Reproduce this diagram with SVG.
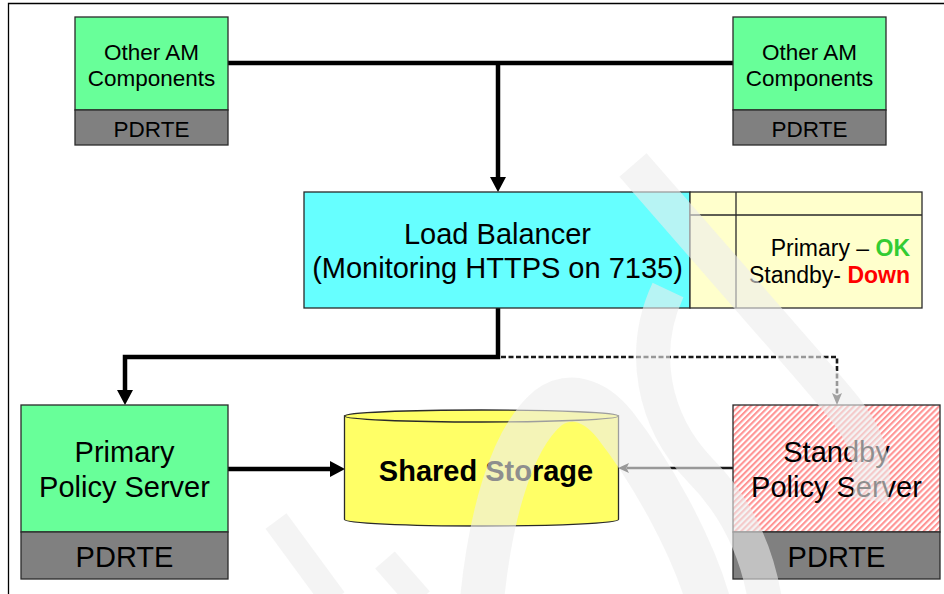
<svg xmlns="http://www.w3.org/2000/svg" width="944" height="594" viewBox="0 0 944 594">
  <style>
    .box { stroke: #2a2a2a; stroke-width: 1.3; }
    .green { fill: #68ff99; }
    .grey { fill: #808080; }
    .cyan { fill: #66ffff; }
    .pale { fill: #ffffcc; }
    .yellow { fill: #ffff66; }
    .t { font-family: "Liberation Sans", Arial, sans-serif; fill: #000; }
    .mid { text-anchor: middle; }
    .end { text-anchor: end; }
    .s22 { font-size: 22.5px; }
    .s23 { font-size: 23px; }
    .s28 { font-size: 29px; }
    .s29 { font-size: 29px; }
    .bold { font-weight: bold; }
    .thick { fill: none; stroke: #000; stroke-width: 4.5; }
    .thin { fill: none; stroke: #1a1a1a; stroke-width: 2.5; }
    .dash { fill: none; stroke: #1a1a1a; stroke-width: 2.6; stroke-dasharray: 5 2.5; }
    .wm { fill: none; stroke: #ececec; stroke-opacity: 0.6; }
  </style>
  <defs>
    <marker id="arrowBig" markerUnits="userSpaceOnUse" markerWidth="15" markerHeight="16" refX="0" refY="8" orient="auto">
      <path d="M0,0 L15,8 L0,16 z" fill="#000"/>
    </marker>
    <marker id="arrowSmall" markerUnits="userSpaceOnUse" markerWidth="11" markerHeight="10" refX="2" refY="5" orient="auto">
      <path d="M0,0 L11,5 L0,10 L2.5,5 z" fill="#1a1a1a"/>
    </marker>
    <marker id="arrowDash" markerUnits="userSpaceOnUse" markerWidth="12" markerHeight="10" refX="2" refY="5" orient="auto">
      <path d="M0,0 L12,5 L0,10 L2.5,5 z" fill="#333"/>
    </marker>
    <pattern id="hatch" patternUnits="userSpaceOnUse" width="4.3" height="10" patternTransform="rotate(45)">
      <rect x="0" y="0" width="4.3" height="10" fill="#ffffff"/>
      <rect x="0" y="0" width="2.1" height="10" fill="#ff9494"/>
    </pattern>
  </defs>

  <!-- page frame -->
  <path d="M8.5,594 V3.5 H944" fill="none" stroke="#000" stroke-width="1.3"/>

  <!-- connectors -->
  <g id="connectors">
    <path class="thick" d="M228,63 H733"/>
    <path class="thick" d="M498,63 V177" marker-end="url(#arrowBig)"/>
    <path class="thick" d="M498,308 V357 H125 V390" marker-end="url(#arrowBig)"/>
    <path class="dash" d="M501,357 H837 V395" marker-end="url(#arrowDash)"/>
    <path class="thick" d="M228,469 H330" marker-end="url(#arrowBig)"/>
    <path class="thin" d="M733,468 H627" marker-end="url(#arrowSmall)"/>
  </g>

  <!-- Other AM Components (left) -->
  <g id="am-left">
    <rect class="box green" x="75" y="17" width="153" height="93"/>
    <rect class="box grey" x="75" y="110" width="153" height="35"/>
    <text class="t mid s22" x="151.5" y="60">Other AM</text>
    <text class="t mid s22" x="151.5" y="86">Components</text>
    <text class="t mid s22" x="151.5" y="137">PDRTE</text>
  </g>

  <!-- Other AM Components (right) -->
  <g id="am-right">
    <rect class="box green" x="733" y="17" width="153" height="93"/>
    <rect class="box grey" x="733" y="110" width="153" height="35"/>
    <text class="t mid s22" x="809.5" y="60">Other AM</text>
    <text class="t mid s22" x="809.5" y="86">Components</text>
    <text class="t mid s22" x="809.5" y="137">PDRTE</text>
  </g>

  <!-- Load balancer with status table -->
  <g id="load-balancer">
    <rect class="box cyan" x="304" y="192" width="386" height="116"/>
    <text class="t mid s28" x="497.5" y="244">Load Balancer</text>
    <text class="t mid s28" x="497.5" y="278">(Monitoring HTTPS on 7135)</text>
  </g>
  <g id="status-table">
    <rect class="box pale" x="690" y="192" width="232" height="116"/>
    <path d="M690,215 H922 M736,192 V308" stroke="#2a2a2a" stroke-width="1.3"/>
    <text class="t end s23" x="910" y="256">Primary – <tspan class="bold" fill="#33cc33">OK</tspan></text>
    <text class="t end s23" x="910" y="283">Standby- <tspan class="bold" fill="#ff0000">Down</tspan></text>
  </g>

  <!-- Primary policy server -->
  <g id="primary">
    <rect class="box green" x="21" y="405" width="207" height="127"/>
    <rect class="box grey" x="21" y="532" width="207" height="47"/>
    <text class="t mid s29" x="124.5" y="462">Primary</text>
    <text class="t mid s29" x="124.5" y="497">Policy Server</text>
    <text class="t mid s29" x="124.5" y="567">PDRTE</text>
  </g>

  <!-- Shared storage -->
  <g id="storage">
    <path class="box yellow" d="M344.5,416 V519.5 A137,6.5 0 0 0 618.5,519.5 V416 z"/>
    <ellipse class="box yellow" cx="481.5" cy="416" rx="137" ry="6"/>
    <text class="t mid s29 bold" x="486" y="481">Shared Storage</text>
  </g>

  <!-- Standby policy server -->
  <g id="standby">
    <rect class="box" x="733" y="405" width="207" height="127" fill="url(#hatch)"/>
    <rect class="box grey" x="733" y="532" width="207" height="47"/>
    <text class="t mid s29" x="836.5" y="462">Standby</text>
    <text class="t mid s29" x="836.5" y="497">Policy Server</text>
    <text class="t mid s29" x="836.5" y="567">PDRTE</text>
  </g>

  <!-- faint background mark laid over the drawing -->
  <g id="mark">
    <path class="wm" stroke-width="26" d="M276,521 L334,600"/>
    <path class="wm" stroke-width="26" d="M385,560 L420,600"/>
    <path class="wm" stroke-width="44" d="M482,600 C490,520 510,440 548,408 C570,392 595,400 615,425 C650,470 690,540 708,600"/>
    <path class="wm" stroke-width="36" d="M633,165 L805,362 C850,415 880,440 870,500"/>
    <path class="wm" stroke-width="34" d="M668,290 C640,350 652,420 700,470 C730,500 755,540 765,600"/>
  </g>
</svg>
